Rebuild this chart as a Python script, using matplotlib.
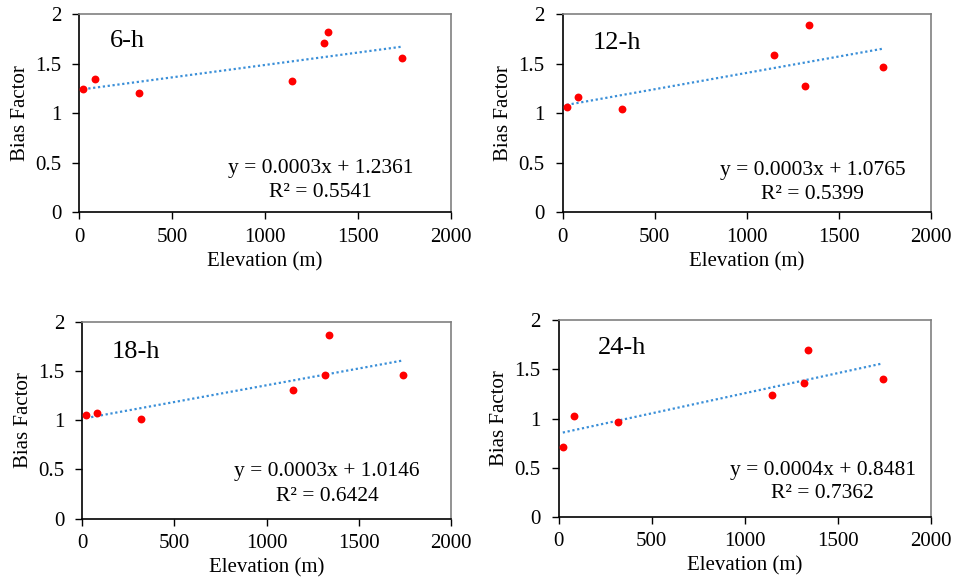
import numpy as np
import matplotlib.pyplot as plt

plt.rcParams['font.family'] = ['Liberation Serif', 'DejaVu Serif']

# station elevations (m) and bias factors for each accumulation period
elevation = [22, 82, 320, 1146, 1316, 1338, 1740]
bf_6h = [1.243, 1.344, 1.200, 1.324, 1.704, 1.815, 1.560]
bf_12h = [1.065, 1.160, 1.045, 1.583, 1.274, 1.889, 1.469]
bf_18h = [1.056, 1.076, 1.012, 1.303, 1.456, 1.862, 1.456]
bf_24h = [0.707, 1.025, 0.961, 1.243, 1.358, 1.697, 1.399]

periods = ['6-h', '12-h', '18-h', '24-h']
slopes = [0.00025, 0.00033, 0.00034, 0.00041]
intercepts = [1.2361, 1.0765, 1.0146, 0.8481]
r2 = [0.5541, 0.5399, 0.6424, 0.7362]

fig = plt.figure(figsize=(9.57, 5.88), dpi=100)
boxes = [
    [0.0829, 0.6389, 0.3881, 0.3373],
    [0.5880, 0.6389, 0.3849, 0.3373],
    [0.0860, 0.1179, 0.3850, 0.3350],
    [0.5838, 0.1213, 0.3890, 0.3338],
]
label_pos = [(0.083, 0.835), (0.081, 0.822), (0.080, 0.817), (0.104, 0.827)]
eq_pos = [(0.649, 0.197, 0.079), (0.679, 0.188, 0.067),
          (0.664, 0.217, 0.091), (0.709, 0.212, 0.094)]

series = [bf_6h, bf_12h, bf_18h, bf_24h]
x = np.array(elevation)
for i in range(4):
    ax = fig.add_axes(boxes[i])
    xs = np.array([x.min(), x.max()])
    ax.plot(xs, intercepts[i] + slopes[i] * xs, color='#3a8fd8', lw=1.6,
            linestyle=(0, (1, 1.2)), zorder=2)
    ax.scatter(x, series[i], s=32, color='#ff0000', zorder=3, linewidths=0)

    ax.set_xlim(0, 2000)
    ax.set_ylim(0, 2)
    ax.set_xticks([0, 500, 1000, 1500, 2000])
    ax.set_yticks([0, 0.5, 1, 1.5, 2])
    ax.set_yticklabels(['0', '0.5', '1', '1.5', '2'])
    ax.tick_params(labelsize=15, direction='out', length=5, width=1,
                   color='black')
    ax.tick_params(axis='x', pad=6)
    ax.tick_params(axis='y', pad=8)
    for side in ['top', 'right']:
        ax.spines[side].set_color('#808080')
        ax.spines[side].set_linewidth(1.2)
    for side in ['left', 'bottom']:
        ax.spines[side].set_color('black')
        ax.spines[side].set_linewidth(1.2)

    ax.set_xlabel('Elevation (m)', fontsize=15, labelpad=4)
    ax.set_ylabel('Bias Factor', fontsize=15, labelpad=4)

    lx, ly = label_pos[i]
    ax.text(lx, ly, periods[i], transform=ax.transAxes, fontsize=19,
            va='baseline', ha='left')
    ex, ey, ry = eq_pos[i]
    ax.text(ex, ey, 'y = %.4fx + %.4f' % (slopes[i], intercepts[i]),
            transform=ax.transAxes, fontsize=15.5, va='baseline', ha='center')
    ax.text(ex, ry, 'R² = %.4f' % r2[i], transform=ax.transAxes,
            fontsize=15.5, va='baseline', ha='center')

fig.savefig('out.png', dpi=100)
